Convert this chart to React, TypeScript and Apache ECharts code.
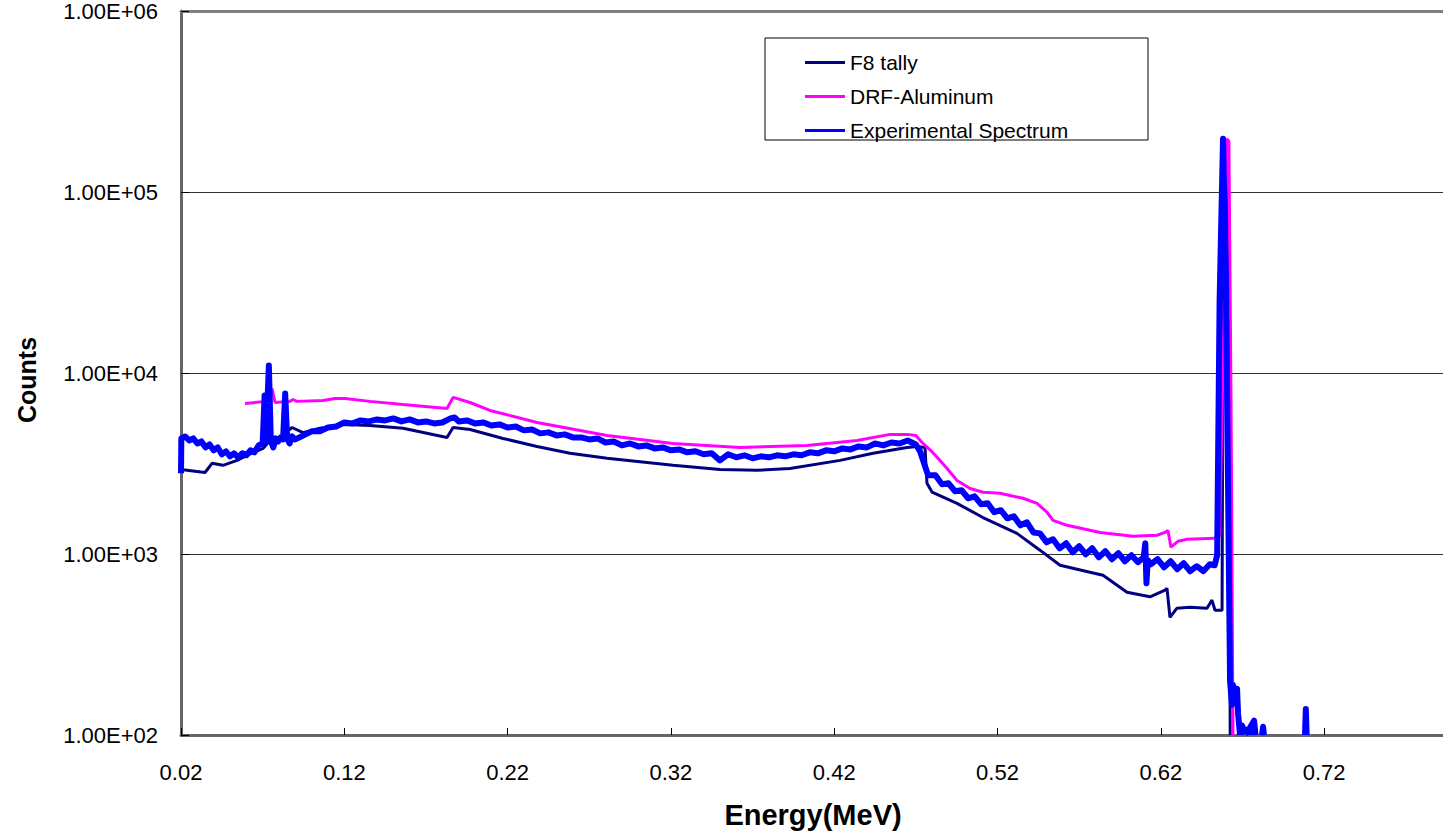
import React, { useEffect, useRef } from "react";
import * as echarts from "echarts";

// ---------- data (energy in MeV, counts) ----------
const X0 = 0.02; // first tick of the energy axis

const f8Energy = [0.020, 0.0347, 0.039, 0.0457, 0.0543, 0.0604, 0.0702, 0.0745, 0.0806, 0.088, 0.0947, 0.1051, 0.1204, 0.1357, 0.156, 0.1829, 0.1866, 0.197, 0.2172, 0.238, 0.2582, 0.2809, 0.3213, 0.3501, 0.3727, 0.3929, 0.4236, 0.4438, 0.4646, 0.4707, 0.4756, 0.4768, 0.4799, 0.4952, 0.5111, 0.5319, 0.546, 0.5583, 0.5766, 0.5846, 0.5993, 0.6134, 0.6226, 0.6238, 0.6256, 0.6299, 0.6379, 0.6483, 0.6513, 0.6532, 0.6575, 0.6582, 0.6597, 0.6612, 0.6625];
const f8Counts = [2930, 2820, 3170, 3090, 3290, 3510, 3830, 4240, 4410, 5000, 4680, 4950, 5200, 5130, 4950, 4400, 5000, 4870, 4350, 3930, 3600, 3380, 3090, 2930, 2900, 2970, 3290, 3600, 3880, 3930, 3880, 2460, 2200, 1905, 1590, 1300, 1050, 867, 792, 764, 615, 580, 631, 646, 447, 502, 508, 502, 556, 489, 489, 30000, 195000, 60000, 100];

const drfEnergy = [0.0592, 0.0727, 0.0757, 0.0776, 0.0867, 0.0886, 0.091, 0.107, 0.1143, 0.1204, 0.1357, 0.156, 0.1829, 0.1866, 0.197, 0.2092, 0.238, 0.2809, 0.3213, 0.3623, 0.4033, 0.434, 0.4542, 0.4646, 0.47, 0.4744, 0.479, 0.483, 0.489, 0.4952, 0.5032, 0.5111, 0.5215, 0.5356, 0.5442, 0.5503, 0.554, 0.5626, 0.5828, 0.603, 0.6177, 0.6226, 0.6244, 0.6262, 0.6305, 0.636, 0.6532, 0.656, 0.659, 0.6605, 0.6617, 0.663, 0.6642];
const drfCounts = [6790, 6970, 8210, 6870, 6970, 7140, 6970, 7050, 7230, 7230, 6970, 6700, 6370, 7330, 6870, 6210, 5330, 4520, 4080, 3880, 3980, 4240, 4580, 4580, 4520, 4081, 3740, 3420, 2974, 2550, 2300, 2193, 2166, 2032, 1906, 1701, 1535, 1440, 1316, 1253, 1269, 1316, 1350, 1090, 1175, 1206, 1221, 1250, 30000, 197000, 190000, 7000, 100];

const expEnergy = [
  0.0200, 0.0202, 0.0225, 0.025, 0.0275, 0.030, 0.0325, 0.035, 0.0375, 0.040, 0.0425, 0.045, 0.0475, 0.050, 0.0525, 0.055, 0.0575, 0.060, 0.0625, 0.065, 0.0675, 0.070, 0.0712, 0.0720, 0.0738, 0.0750, 0.0765, 0.0780, 0.0795, 0.0810, 0.0825, 0.0838, 0.0850, 0.0865, 0.0880, 0.0900,
  0.095, 0.100, 0.105, 0.110, 0.115, 0.120, 0.125, 0.130, 0.135, 0.140, 0.145, 0.150, 0.155, 0.160, 0.165, 0.170, 0.175, 0.180, 0.185, 0.1875, 0.190, 0.195,
  0.200, 0.205, 0.210, 0.215, 0.220, 0.225, 0.230, 0.235, 0.240, 0.245, 0.250, 0.255, 0.260, 0.265, 0.270, 0.275, 0.280, 0.285, 0.290, 0.295,
  0.300, 0.305, 0.310, 0.315, 0.320, 0.325, 0.330, 0.335, 0.340, 0.345, 0.350, 0.355, 0.360, 0.365, 0.370, 0.375, 0.380, 0.385, 0.390, 0.395,
  0.400, 0.405, 0.410, 0.415, 0.420, 0.425, 0.430, 0.435, 0.440, 0.445, 0.450, 0.455, 0.460, 0.465, 0.470, 0.4725, 0.4775,
  0.482, 0.486, 0.490, 0.494, 0.498, 0.502, 0.506, 0.510, 0.514, 0.518, 0.522, 0.526, 0.530, 0.534, 0.538, 0.542, 0.546, 0.550, 0.554, 0.558,
  0.562, 0.566, 0.570, 0.574, 0.578, 0.582, 0.586, 0.590, 0.594, 0.598, 0.602, 0.606, 0.6095, 0.6105, 0.6112, 0.612, 0.614, 0.618, 0.622, 0.626,
  0.630, 0.634, 0.638, 0.642, 0.646, 0.650, 0.653, 0.6545, 0.6560, 0.6581, 0.6600, 0.6624, 0.6636, 0.6642, 0.6655, 0.6667, 0.6673, 0.6685,
  0.6688, 0.6690, 0.6697, 0.6712, 0.6728, 0.6740, 0.6741, 0.6742, 0.6746, 0.6771, 0.6780, 0.6790, 0.6820, 0.6826, 0.6832, 0.6900, 0.7083, 0.7088, 0.7093,
];
const expCounts: (number | null)[] = [
  2790, 4350, 4460, 4240, 4350, 4080, 4186, 3880, 4030, 3740, 3880, 3555, 3693, 3466, 3600, 3422, 3600, 3510, 3740, 3646, 3980, 4081, 7500, 4133, 11000, 4240, 3880, 4350, 4186, 4407, 4296, 7700, 4351, 4081, 4463, 4296,
  4520, 4759, 4759, 5001, 5065, 5332, 5265, 5470, 5400, 5540, 5470, 5611, 5400, 5540, 5332, 5400, 5265, 5332, 5611, 5683, 5400, 5470,
  5265, 5332, 5130, 5198, 5001, 5065, 4820, 4876, 4640, 4699, 4520, 4581, 4407, 4407, 4296, 4351, 4133, 4186, 3980, 4081,
  3930, 3980, 3831, 3880, 3740, 3783, 3646, 3693, 3555, 3600, 3290, 3555, 3422, 3510, 3379, 3466, 3422, 3510, 3466, 3555,
  3510, 3646, 3600, 3740, 3693, 3831, 3783, 3930, 3880, 4081, 3980, 4133, 4081, 4240, 4030, 3700, 2720,
  2720, 2426, 2457, 2221, 2250, 2032, 2084, 1882, 1906, 1701, 1745, 1574, 1614, 1440, 1496, 1316, 1300, 1160, 1206, 1076,
  1146, 1023, 1104, 997, 1076, 960, 1036, 936, 1010, 912, 984, 901, 960, 1146, 689, 924, 878, 936, 845, 912,
  824, 889, 803, 856, 803, 878, 867, 984, 25000, 197000, 25000, 199, 147, 189, 170, 180, 132, 100,
  null, 100, 113, 105, 107, 100, null, 100, 110, 120, 100, null, 100, 111, 100, null, 100, 139, 100,
];

const seriesNames = ["F8 tally", "DRF-Aluminum", "Experimental Spectrum"];
const yTickValues = [1e2, 1e3, 1e4, 1e5, 1e6];

const FONT = "'Liberation Sans', Arial, sans-serif";

function pairs(e: number[], c: (number | null)[]) {
  return e.map((v, i) => [v - X0, c[i]]);
}

export default function App() {
  const ref = useRef<HTMLDivElement>(null);
  useEffect(() => {
    if (!ref.current) return;
    const chart = echarts.init(ref.current, null, { renderer: "svg" });
    const option: any = {
      animation: false,
      backgroundColor: "#ffffff",
      grid: { left: 181, top: 10, right: 0, bottom: 97, containLabel: false },
      legend: {
        orient: "vertical",
        left: 805,
        top: 52,
        padding: 0,
        icon: "rect",
        itemWidth: 40,
        itemHeight: 3,
        itemGap: 13,
        data: seriesNames,
        textStyle: { fontSize: 21, lineHeight: 20, color: "#000", fontFamily: FONT },
      },
      graphic: [
        {
          type: "rect",
          shape: { x: 765, y: 38, width: 383, height: 102 },
          style: { fill: "transparent", stroke: "#000", lineWidth: 1 },
          z: 0,
        },
        {
          type: "text",
          x: 27,
          y: 380,
          rotation: Math.PI / 2,
          style: { text: "Counts", fontSize: 25, fontWeight: "bold", fontFamily: FONT, fill: "#000", align: "center", verticalAlign: "middle" },
        },
        {
          type: "text",
          x: 813,
          y: 815,
          style: { text: "Energy(MeV)", fontSize: 29, fontWeight: "bold", fontFamily: FONT, fill: "#000", align: "center", verticalAlign: "middle" },
        },
      ],
      xAxis: [
        {
          type: "value",
          min: 0,
          max: 0.7728,
          interval: 0.1,
          axisLine: { show: true, onZero: false, lineStyle: { color: "#666", width: 3 } },
          axisTick: { show: true, inside: true, length: 7, lineStyle: { color: "#000", width: 1 } },
          axisLabel: {
            fontSize: 22,
            color: "#000",
            fontFamily: FONT,
            margin: 26,
            showMaxLabel: false,
            formatter: (v: number) => (v + X0).toFixed(2),
          },
          splitLine: { show: false },
        },
        {
          type: "value",
          position: "top",
          min: 0,
          max: 0.7728,
          interval: 0.1,
          axisLine: { show: true, onZero: false, lineStyle: { color: "#808080", width: 3 } },
          axisTick: { show: false },
          axisLabel: { show: false },
          splitLine: { show: false },
        },
      ],
      yAxis: {
        type: "log",
        logBase: 10,
        min: yTickValues[0],
        max: yTickValues[yTickValues.length - 1],
        axisLine: { show: true, lineStyle: { color: "#666", width: 3 } },
        axisTick: { show: true, inside: true, length: 8, lineStyle: { color: "#000", width: 1 } },
        minorTick: { show: false },
        axisLabel: {
          fontSize: 22,
          color: "#000",
          fontFamily: FONT,
          margin: 23,
          padding: [14, 0, 0, 0],
          formatter: (v: number) => {
            const e = Math.round(Math.log10(v));
            return "1.00E+" + String(e).padStart(2, "0");
          },
        },
        splitLine: { show: true, lineStyle: { color: "#333", width: 1 } },
      },
      series: [
        {
          name: seriesNames[0],
          type: "line",
          xAxisIndex: 0,
          data: pairs(f8Energy, f8Counts),
          symbol: "none",
          lineStyle: { color: "#000080", width: 3 },
          itemStyle: { color: "#000080" },
          connectNulls: false,
          clip: true,
        },
        {
          name: seriesNames[1],
          type: "line",
          xAxisIndex: 0,
          data: pairs(drfEnergy, drfCounts),
          symbol: "none",
          lineStyle: { color: "#ff00ff", width: 3 },
          itemStyle: { color: "#ff00ff" },
          clip: true,
        },
        {
          name: seriesNames[2],
          type: "line",
          xAxisIndex: 0,
          data: pairs(expEnergy, expCounts),
          symbol: "none",
          lineStyle: { color: "#0000ff", width: 6, join: "round" },
          itemStyle: { color: "#0000ff" },
          connectNulls: false,
          clip: true,
        },
      ],
    };
    chart.setOption(option);
    return () => chart.dispose();
  }, []);
  return <div ref={ref} style={{ position: "absolute", left: 0, top: 0, width: 1443, height: 832 }} />;
}
